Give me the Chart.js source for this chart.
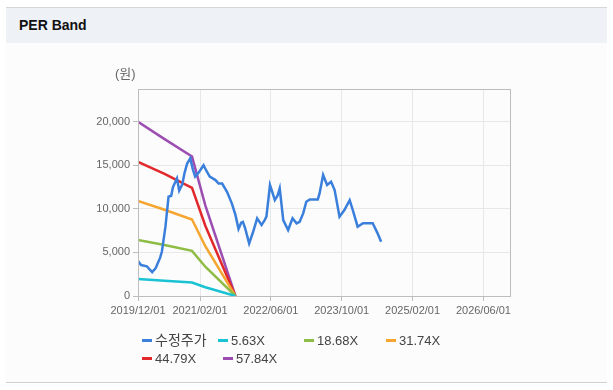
<!DOCTYPE html>
<html>
<head>
<meta charset="utf-8">
<script src="https://cdn.jsdelivr.net/npm/chart.js@4"></script>
<style>
    html, body { margin: 0; padding: 0; background: #fff; }
    #wrap { position: relative; width: 613px; height: 390px; overflow: hidden; }
    #panel { position: absolute; left: 6px; top: 7px; width: 601px; height: 374px; background: #fcfcfc; border-top: 1px solid #d6d6d6; border-bottom: 1px solid #d0d0d0; }
    #head { position: absolute; left: 0; top: 0; width: 601px; height: 35px; background: #eef2f7; }
    #head span { position: absolute; left: 13px; top: 9px; font: bold 14px 'Liberation Sans', sans-serif; color: #111; }
    #chartBox { position: absolute; left: 0; top: 0; width: 613px; height: 390px; }
</style>
</head>
<body>
<div id="wrap">
    <div id="panel"><div id="head"><span>PER Band</span></div></div>
    <div id="chartBox"><canvas id="perChart"></canvas></div>
</div>
<script>
// x values are months counted from 2019/12/01
const priceMonths = [0, 0.7, 2, 3.2, 4, 5, 5.4, 6.2, 6.9, 7.5, 7.9, 8.8, 9.3, 10, 10.5, 11.1, 11.8,
    12.4, 12.9, 13.6, 14.8, 15.4, 16.2, 17.5, 18.2, 19, 20.1, 21.2, 22, 22.7, 23.3, 23.7, 24.2, 25.1,
    26, 26.9, 27.9, 28.6, 29, 29.8, 30.3, 30.9, 31.5, 32, 32.8, 33.9, 34.9, 35.8, 36.5, 37.3, 38,
    38.8, 40.6, 41, 41.8, 42.7, 43.6, 44.4, 45.5, 46.6, 47.8, 48.5, 49.6, 50.8, 53, 54.1, 54.9];
const priceValues = [4000, 3550, 3400, 2750, 3200, 4400, 5100, 7950, 11390, 11500, 12500, 13500, 12100, 12800, 14100, 15200, 15800,
    14500, 13700, 14100, 15000, 14400, 13700, 13300, 12900, 12900, 11950, 10600, 9300, 7700, 8400, 8500, 7760, 6040,
    7370, 8910, 8140, 8710, 9100, 12730, 11960, 11000, 11500, 12350, 8710, 7570, 8910, 8340, 8520, 9480, 10810,
    11080, 11080, 11770, 13880, 12730, 13110, 12160, 9100, 9860, 11000, 9860, 7950, 8340, 8340, 7190, 6230];

const bandMonths = [0, 6, 12.2, 15.2, 22];
const band1 = [1950, 1750, 1550, 1010, 0];
const band2 = [6420, 5850, 5180, 3360, 0];
const band3 = [10900, 9900, 8780, 5710, 0];
const band4 = [15400, 14000, 12400, 8060, 0];
const band5 = [20000, 18000, 16000, 10400, 0];

const seriesLabels = ['수정주가', '5.63X', '18.68X', '31.74X', '44.79X', '57.84X'];
const seriesColors = ['#3a7fdc', '#19c3d3', '#8ebc45', '#f6a630', '#e2282a', '#9c4db2'];

// tick positions: 2019/12, 2021/02, 2022/06, 2023/10, 2025/02, 2026/06
const xTickMonths = [0, 14, 30, 46, 62, 78];
const xMin = 0, xMax = 84;
const yMax = 23750, yStep = 5000;
const baseYear = 2019, baseMonth = 12;

function toPoints(xs, ys) {
    return xs.map((x, i) => ({ x: x, y: ys[i] }));
}

function monthLabel(v) {
    const total = baseYear * 12 + (baseMonth - 1) + Math.round(v);
    const y = Math.floor(total / 12);
    const m = total % 12 + 1;
    return y + '/' + String(m).padStart(2, '0') + '/01';
}

const bandSets = [band1, band2, band3, band4, band5];
const datasets = [{
    label: seriesLabels[0],
    data: toPoints(priceMonths, priceValues),
    borderColor: seriesColors[0],
    borderWidth: 2.5,
    pointRadius: 0,
    tension: 0
}];
bandSets.forEach((b, i) => {
    datasets.push({
        label: seriesLabels[i + 1],
        data: toPoints(bandMonths, b),
        borderColor: seriesColors[i + 1],
        borderWidth: 2.5,
        pointRadius: 0,
        tension: 0
    });
});

const fontFamily = "'Liberation Sans', 'Noto Sans CJK KR', sans-serif";

// frame, unit label and legend
const extras = {
    id: 'extras',
    afterDatasetsDraw(chart) {
        const ctx = chart.ctx;
        const a = chart.chartArea;
        ctx.save();
        ctx.strokeStyle = '#bdbdbd';
        ctx.lineWidth = 1;
        ctx.strokeRect(Math.round(a.left) + 0.5, Math.round(a.top) + 0.5, Math.round(a.right - a.left), Math.round(a.bottom - a.top));
        ctx.restore();
    },
    afterDraw(chart) {
        const ctx = chart.ctx;
        ctx.save();
        ctx.fillStyle = '#666';
        ctx.font = "13px " + fontFamily;
        ctx.textBaseline = 'middle';
        ctx.fillText('(원)', 115, 74);

        const slots = [[142, 340], [218, 340], [304, 340], [386, 340], [142, 358], [223, 358]];
        chart.data.datasets.forEach((ds, i) => {
            const [x, y] = slots[i];
            ctx.fillStyle = ds.borderColor;
            ctx.fillRect(x, y - 1, 10, 3);
            ctx.fillStyle = '#444';
            ctx.font = (i === 0 ? "14px " : "13px ") + fontFamily;
            ctx.fillText(ds.label, x + 13, y + 1);
        });
        ctx.restore();
    }
};

new Chart(document.getElementById('perChart'), {
    type: 'line',
    data: { datasets: datasets },
    options: {
        responsive: true,
        maintainAspectRatio: false,
        animation: false,
        layout: { padding: { left: 0, right: 103, top: 89, bottom: 74 } },
        plugins: {
            legend: { display: false },
            tooltip: { enabled: false }
        },
        scales: {
            x: {
                type: 'linear',
                min: xMin,
                max: xMax,
                afterFit: s => { s.height = 20; },
                afterBuildTicks: s => {
                    s.ticks = xTickMonths.map(v => ({ value: v }));
                },
                ticks: {
                    callback: v => monthLabel(v),
                    color: '#666',
                    font: { family: fontFamily, size: 11 },
                    maxRotation: 0,
                    autoSkip: false,
                    padding: 3
                },
                grid: { color: '#e8e8e8', tickColor: '#bdbdbd', tickLength: 5 },
                border: { color: '#bdbdbd' }
            },
            y: {
                min: 0,
                max: yMax,
                afterFit: s => { s.width = 138; },
                afterBuildTicks: s => {
                    s.ticks = [];
                    for (let v = 0; v <= yMax; v += yStep) s.ticks.push({ value: v });
                },
                ticks: {
                    callback: v => v.toLocaleString('en-US'),
                    color: '#666',
                    font: { family: fontFamily, size: 11 },
                    padding: 3
                },
                grid: { color: '#e8e8e8', tickColor: '#bdbdbd', tickLength: 5 },
                border: { color: '#bdbdbd' }
            }
        }
    },
    plugins: [extras]
});
</script>
</body>
</html>
